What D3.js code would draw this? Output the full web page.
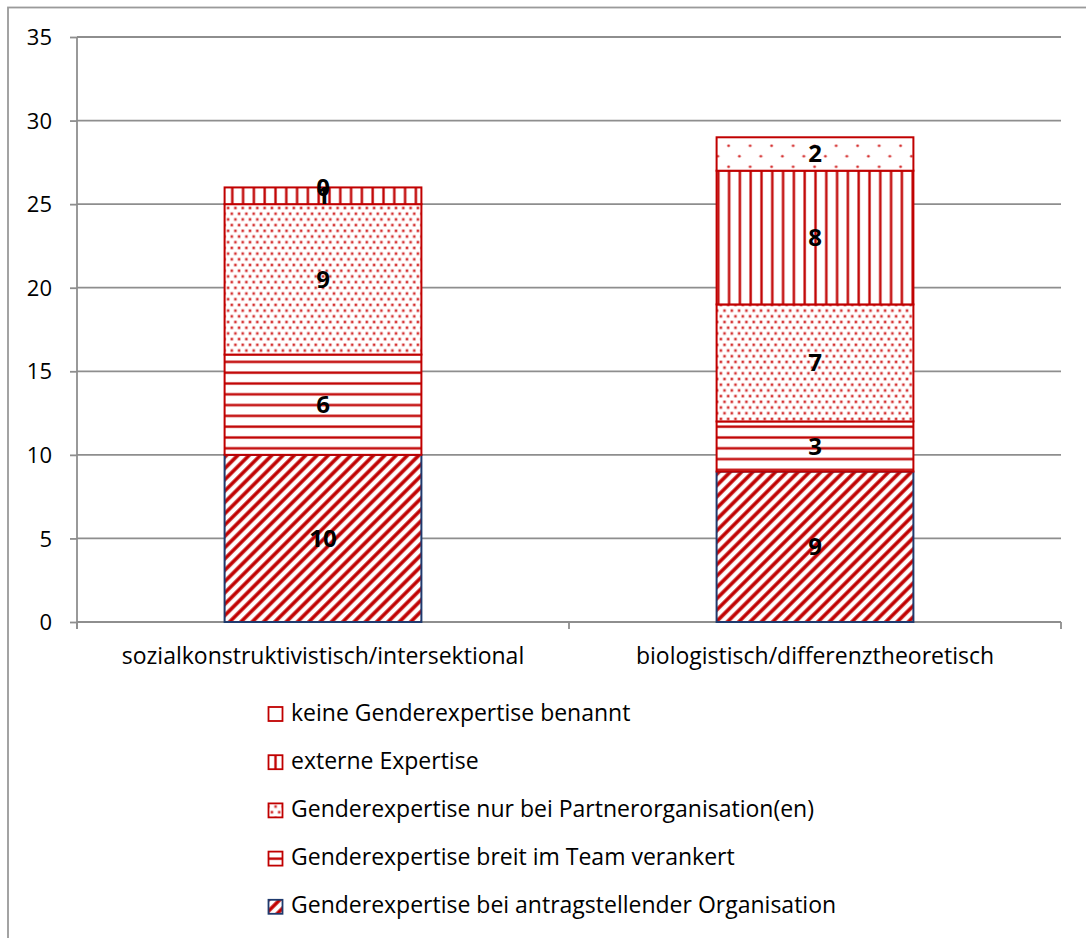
<!DOCTYPE html>
<html>
<head>
<meta charset="utf-8">
<script src="https://cdn.jsdelivr.net/npm/d3@7"></script>
<style>
  html, body { margin: 0; padding: 0; background: #fff; }
  svg { display: block; }
  text { font-family: "Open Sans", sans-serif; fill: #000; }
</style>
</head>
<body>
<svg id="chart" width="1086" height="938"></svg>
<script>
// Categories along the x axis
const categories = ["sozialkonstruktivistisch/intersektional", "biologistisch/differenztheoretisch"];

// Series values per category (stacked bottom to top)
const antragstellend = [10, 9];
const breitImTeam = [6, 3];
const partnerorganisation = [9, 7];
const externeExpertise = [1, 8];
const keineExpertise = [0, 2];

const seriesNames = [
  "Genderexpertise bei antragstellender Organisation",
  "Genderexpertise breit im Team verankert",
  "Genderexpertise nur bei Partnerorganisation(en)",
  "externe Expertise",
  "keine Genderexpertise benannt"
];
const seriesValues = [antragstellend, breitImTeam, partnerorganisation, externeExpertise, keineExpertise];
const seriesPatterns = ["pDiag", "pHoriz", "pDots", "pVert", "pSparse"];
const legendPatterns = ["pDiag", "pHoriz", "pDots", "pVert", null];
const seriesStroke = ["#1f3a6e", "#c00000", "#c00000", "#c00000", "#c00000"];

const yTicks = [0, 5, 10, 15, 20, 25, 30, 35];

const RED = "#c00000";
const GRID = "#8e8e8e";
const FONT = 23;

const svg = d3.select("#chart");

// Hatch and dot fills
const defs = svg.append("defs");
{
  const s = 8;
  const p = defs.append("pattern").attr("id", "pDiag").attr("patternUnits", "userSpaceOnUse")
    .attr("width", s).attr("height", s).attr("patternTransform", "rotate(45)");
  p.append("rect").attr("width", s).attr("height", s).attr("fill", "#fff");
  p.append("rect").attr("x", 0).attr("width", 4.2).attr("height", s).attr("fill", "#e6a0a0");
  p.append("rect").attr("x", 0.5).attr("width", 3.2).attr("height", s).attr("fill", RED);
}
{
  const p = defs.append("pattern").attr("id", "pHoriz").attr("patternUnits", "userSpaceOnUse")
    .attr("width", 10).attr("height", 10.8);
  p.append("rect").attr("width", 10).attr("height", 10.8).attr("fill", "#fff");
  p.append("rect").attr("y", 4).attr("width", 10).attr("height", 3).attr("fill", "#e9a5a5");
  p.append("rect").attr("y", 4.5).attr("width", 10).attr("height", 2).attr("fill", RED);
}
{
  const p = defs.append("pattern").attr("id", "pVert").attr("patternUnits", "userSpaceOnUse")
    .attr("width", 10.8).attr("height", 10);
  p.append("rect").attr("width", 10.8).attr("height", 10).attr("fill", "#fff");
  p.append("rect").attr("x", 4).attr("width", 3).attr("height", 10).attr("fill", "#e9a5a5");
  p.append("rect").attr("x", 4.5).attr("width", 2).attr("height", 10).attr("fill", RED);
}
{
  const w = 7.3, h = 11.4;
  const p = defs.append("pattern").attr("id", "pDots").attr("patternUnits", "userSpaceOnUse")
    .attr("width", w).attr("height", h);
  p.append("rect").attr("width", w).attr("height", h).attr("fill", "#fff");
  [[w * 0.25, h * 0.25], [w * 0.75, h * 0.75]].forEach(([cx, cy]) => {
    p.append("circle").attr("cx", cx).attr("cy", cy).attr("r", 2).attr("fill", "#f0b4b4");
    p.append("circle").attr("cx", cx).attr("cy", cy).attr("r", 1.1).attr("fill", "#d42a2a");
  });
}
{
  const w = 21.5, h = 21;
  const p = defs.append("pattern").attr("id", "pSparse").attr("patternUnits", "userSpaceOnUse")
    .attr("width", w).attr("height", h).attr("x", 3).attr("y", 4);
  p.append("rect").attr("width", w).attr("height", h).attr("fill", "#fff");
  [[w * 0.25, h * 0.25], [w * 0.75, h * 0.75]].forEach(([cx, cy]) => {
    p.append("circle").attr("cx", cx).attr("cy", cy).attr("r", 1.8).attr("fill", "#f0b4b4");
    p.append("circle").attr("cx", cx).attr("cy", cy).attr("r", 1.1).attr("fill", "#d42a2a");
  });
}

// Outer chart frame
svg.append("rect").attr("x", 8).attr("y", 7.5).attr("width", 1100).attr("height", 1000)
  .attr("fill", "none").attr("stroke", "#9a9a9a").attr("stroke-width", 1.8);

// Plot area
const plot = { left: 77, right: 1061, top: 37, bottom: 622 };

const x = d3.scaleBand().domain(categories).range([plot.left, plot.right]).padding(0);
const y = d3.scaleLinear().domain([0, 35]).range([plot.bottom, plot.top]);
const barWidth = x.bandwidth() * 0.4;

// Horizontal gridlines
svg.append("g").selectAll("line").data(yTicks.filter(d => d > 0)).join("line")
  .attr("x1", plot.left).attr("x2", plot.right)
  .attr("y1", d => y(d)).attr("y2", d => y(d))
  .attr("stroke", GRID).attr("stroke-width", 1.8);

// Y axis
const yAxis = svg.append("g").attr("transform", `translate(${plot.left},0)`)
  .call(d3.axisLeft(y).tickValues(yTicks).tickSize(7).tickPadding(18));
yAxis.select(".domain").attr("stroke", GRID).attr("stroke-width", 1.8)
  .attr("d", `M0,${plot.top}V${plot.bottom + 7}`);
yAxis.selectAll(".tick line").attr("stroke", GRID).attr("stroke-width", 1.8);
yAxis.selectAll(".tick text").attr("font-size", 22).attr("font-family", "'Open Sans', sans-serif")
  .attr("fill", "#000").attr("dy", "0.35em");

// X axis
const xAxis = svg.append("g").attr("transform", `translate(0,${plot.bottom})`);
xAxis.append("line").attr("x1", plot.left).attr("x2", plot.right).attr("y1", 0).attr("y2", 0)
  .attr("stroke", GRID).attr("stroke-width", 1.8);
const boundaries = [plot.left].concat(categories.map(c => x(c) + x.bandwidth()));
xAxis.selectAll("line.sep").data(boundaries).join("line").attr("class", "sep")
  .attr("x1", d => d).attr("x2", d => d).attr("y1", 0).attr("y2", 7)
  .attr("stroke", GRID).attr("stroke-width", 1.8);
xAxis.selectAll("text").data(categories).join("text")
  .attr("x", d => x(d) + x.bandwidth() / 2).attr("y", 42)
  .attr("text-anchor", "middle").attr("font-size", FONT).text(d => d);

// Stacked bars
const rows = categories.map((c, i) => {
  const r = { category: c };
  seriesNames.forEach((s, k) => { r[s] = seriesValues[k][i]; });
  return r;
});
const stacked = d3.stack().keys(seriesNames)(rows);

const layers = svg.append("g").selectAll("g").data(stacked).join("g");
layers.selectAll("rect").data(d => d.map(v => ({ v, key: d.key, index: d.index }))).join("rect")
  .attr("x", d => x(d.v.data.category) + (x.bandwidth() - barWidth) / 2)
  .attr("width", barWidth)
  .attr("y", d => y(d.v[1]))
  .attr("height", d => y(d.v[0]) - y(d.v[1]))
  .attr("fill", d => `url(#${seriesPatterns[d.index]})`)
  .attr("stroke", d => seriesStroke[d.index])
  .attr("stroke-width", 2);

// Value labels centred in each segment
const labels = svg.append("g");
stacked.forEach((layer, k) => {
  layer.forEach(v => {
    labels.append("text")
      .attr("x", x(v.data.category) + x.bandwidth() / 2)
      .attr("y", y((v[0] + v[1]) / 2))
      .attr("dy", "0.35em")
      .attr("text-anchor", "middle")
      .attr("font-size", 24).attr("font-weight", "bold")
      .text(v.data[layer.key]);
  });
});

// Legend (top entry is the top of the stack)
const legend = svg.append("g");
const legendOrder = seriesNames.map((s, k) => k).reverse();
legendOrder.forEach((k, i) => {
  const base = 720.5 + i * 48.2;
  legend.append("rect").attr("x", 268.5).attr("y", base - 13.5).attr("width", 14).attr("height", 14)
    .attr("fill", legendPatterns[k] ? `url(#${legendPatterns[k]})` : "#fff")
    .attr("stroke", seriesStroke[k]).attr("stroke-width", 1.8);
  legend.append("text").attr("x", 291).attr("y", base).attr("font-size", FONT).text(seriesNames[k]);
});
</script>
</body>
</html>
